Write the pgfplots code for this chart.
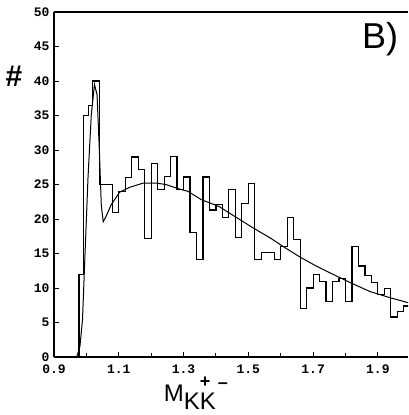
\documentclass[border=0pt]{standalone}
\usepackage{fontspec}
\setmainfont{Liberation Sans}
\setmonofont{Liberation Mono}
\usepackage{pgfplots}
\pgfplotsset{compat=1.18}

% histogram: left edge of each bin, count
\pgfplotstableread{
x     n
0.960 0
0.977 12
0.990 35
1.006 36.5
1.020 40
1.040 25
1.060 25
1.080 21
1.100 24
1.120 26
1.140 29
1.160 27.2
1.180 17.2
1.200 28.1
1.220 24.3
1.240 26.2
1.260 29.1
1.280 24.3
1.300 26.1
1.320 18
1.340 14.1
1.360 26.1
1.380 21.3
1.400 22.1
1.420 20.2
1.440 24.3
1.460 17.3
1.480 22.3
1.500 25.2
1.520 14.1
1.540 15.1
1.560 15.1
1.580 14.1
1.600 16
1.620 20.2
1.640 17
1.660 7
1.680 10
1.700 12
1.720 11
1.740 8.1
1.760 11
1.780 11.4
1.800 8
1.820 16
1.840 13.2
1.860 11.8
1.880 10.8
1.900 9.1
1.920 9.9
1.940 5.8
1.960 6.6
1.980 7.4
2.000 7.4
}\histo

% fitted curve
\pgfplotstableread{
x     f
0.970 0
0.980 1.5
0.988 5.4
0.995 14
1.005 26
1.015 35
1.025 39.5
1.033 38
1.040 30
1.046 22
1.052 19.6
1.060 20.3
1.077 22.1
1.103 23.9
1.134 24.6
1.175 25.2
1.216 25.2
1.245 25.0
1.283 24.4
1.314 24.0
1.355 22.8
1.410 21.8
1.464 20.2
1.515 18.7
1.566 17.3
1.608 16.0
1.659 14.5
1.705 13.3
1.752 12.2
1.816 10.75
1.875 9.5
1.937 8.6
1.995 7.85
}\fit

\begin{document}
\begin{tikzpicture}
\useasboundingbox (-54pt,-58pt) rectangle (354pt,357pt);
\begin{axis}[at={(0,0)}, anchor=south west, scale only axis,
  width=354pt, height=345pt,
  xmin=0.9, xmax=1.993, ymin=0, ymax=50,
  axis x line*=box, axis y line*=left,
  axis line style={line width=1.6pt},
  xtick={0.9,1.1,1.3,1.5,1.7,1.9}, xticklabels={0.9,1.1,1.3,1.5,1.7,1.9},
  minor xtick={1.0,1.2,1.4,1.6,1.8},
  ytick={0,5,...,50},
  xtick pos=bottom, ytick pos=left,
  tick align=inside, major tick length=5pt, minor tick length=4pt,
  tick style={line width=0.9pt, black},
  ticklabel style={font=\ttfamily\bfseries\fontsize{13}{13}\selectfont},
  /pgf/number format/assume math mode=true,
  xticklabel style={yshift=-4pt},
  yticklabel style={xshift=-1pt},
  ylabel={\#},
  ylabel style={at={(axis description cs:-0.113,0.813)}, anchor=center, rotate=-90,
    font=\bfseries\fontsize{30}{30}\selectfont},
  xlabel={\fontsize{24}{24}\selectfont M\raisebox{-8pt}{K\rlap{\raisebox{22pt}{\fontsize{18}{18}\selectfont\bfseries +}}K\kern2pt\raisebox{21pt}{\fontsize{18}{18}\selectfont\bfseries\textendash}}},
  xlabel style={at={(axis description cs:0.31,0)}, anchor=north west, inner sep=0pt, yshift=-20pt},
]
\addplot[const plot, black, line width=1.2pt] table[x=x, y=n] {\histo};
\addplot[black, line width=1pt] table[x=x, y=f] {\fit};
\node[font=\fontsize{36}{36}\selectfont, anchor=center] at (rel axis cs:0.921,0.92) {B)};
\end{axis}
\end{tikzpicture}
\end{document}
